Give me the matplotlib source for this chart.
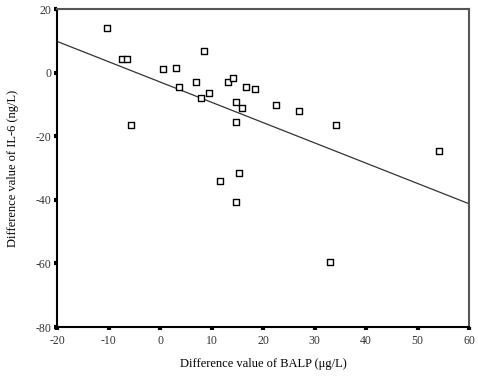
import matplotlib
matplotlib.use("Agg")
import matplotlib.pyplot as plt
import numpy as np

plt.rcParams['font.family'] = ['Liberation Serif', 'DejaVu Serif']

balp = [-10.3, -7.4, -6.5, -5.6, 0.5, 3.1, 3.6, 7.0, 8.6, 8.0, 9.5, 13.2, 14.1,
        14.8, 14.8, 11.7, 15.3, 14.8, 16.7, 18.4, 16.0, 22.6, 27.0, 34.2, 33.1, 54.2]
il6 = [14.2, 4.2, 4.2, -16.4, 1.1, 1.5, -4.4, -2.8, 7.0, -7.8, -6.4, -2.8, -1.5,
       -9.1, -15.5, -34.0, -31.4, -40.7, -4.3, -5.2, -11.0, -10.1, -11.9, -16.4, -59.5, -24.6]

fit_x = [-20, 60]
fit_y = [9.9, -41.2]

xticks = [-20, -10, 0, 10, 20, 30, 40, 50, 60]
xticklabels = ['-20', '-10', '0', '10', '20', '30', '40', '50', '60']
yticks = [20, 0, -20, -40, -60, -80]
yticklabels = ['20', '0', '-20', '-40', '-60', '-80']

fig = plt.figure(figsize=(4.78, 3.78), dpi=100)
ax = fig.add_axes([57/478, 1-327/378, (469-57)/478, (327-9.3)/378])

ax.plot(fit_x, fit_y, color='#333333', lw=0.9)
ax.scatter(balp, il6, marker='s', s=14, facecolors='white', edgecolors='black', linewidths=1.0, zorder=3)

ax.set_xlim(-20, 60)
ax.set_ylim(-80, 20)
ax.set_xticks(xticks)
ax.set_xticklabels(xticklabels)
ax.set_yticks(yticks)
ax.set_yticklabels(yticklabels)

ax.tick_params(axis='both', direction='out', length=2, width=3, color='black',
               labelsize=8.5, labelcolor='#333333')
ax.tick_params(axis='x', pad=4)
ax.tick_params(axis='y', pad=2)

for s in ['left', 'bottom']:
    ax.spines[s].set_color('black')
    ax.spines[s].set_linewidth(1.5)
for s in ['top', 'right']:
    ax.spines[s].set_color('#555555')
    ax.spines[s].set_linewidth(1.5)

ax.set_xlabel('Difference value of BALP (μg/L)', fontsize=9, labelpad=8)
ax.set_ylabel('Difference value of IL-6 (ng/L)', fontsize=9, labelpad=12)

fig.savefig('out.png', dpi=100)
